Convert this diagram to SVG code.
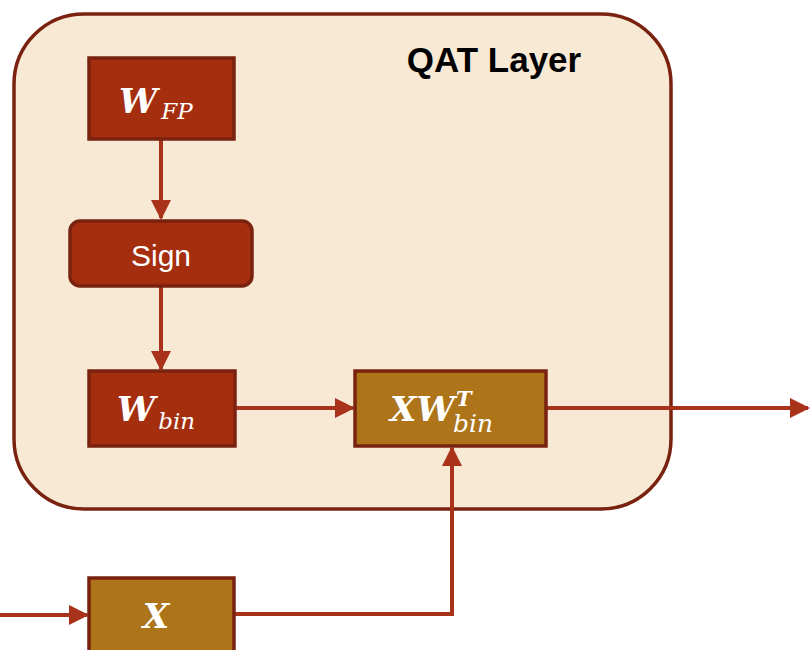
<svg xmlns="http://www.w3.org/2000/svg" width="810" height="650" viewBox="0 0 810 650">
<defs>
<style>
.box{stroke:#7A2210;stroke-width:3.5}
.red{fill:#A52E0F}
.gold{fill:#AD7419}
.conn{fill:none;stroke:#A8321A;stroke-width:4}
.m{font-family:"DejaVu Serif","Liberation Serif",serif;fill:#fff}
.mb{font-weight:bold;font-style:italic;font-size:34px}
.ms{font-style:italic;font-size:23px}
</style>
<marker id="ah" viewBox="0 0 10 10" refX="9" refY="5" markerWidth="5" markerHeight="5" orient="auto" markerUnits="strokeWidth">
<path d="M0,0 L10,5 L0,10 z" fill="#A8321A"/>
</marker>
</defs>
<rect width="810" height="650" fill="#fff"/>
<g id="qat-layer">
<rect x="14" y="14" width="657" height="495" rx="70" fill="#F8E9D5" stroke="#7A2210" stroke-width="3.5"/>
<text x="494" y="72" text-anchor="middle" font-family="Liberation Sans,Arial,sans-serif" font-weight="bold" font-size="35" fill="#000">QAT Layer</text>
</g>
<g id="connectors">
<path class="conn" d="M161,139 V218" marker-end="url(#ah)"/>
<path class="conn" d="M161,286 V369" marker-end="url(#ah)"/>
<path class="conn" d="M235,408 H353" marker-end="url(#ah)"/>
<path class="conn" d="M546,408 H808" marker-end="url(#ah)"/>
<path class="conn" d="M0,615 H87" marker-end="url(#ah)"/>
<path class="conn" d="M234,614 H452 V448" marker-end="url(#ah)"/>
</g>
<g id="w-fp">
<rect class="box red" x="89" y="58" width="145" height="81"/>
<text class="m" x="119" y="113"><tspan class="mb">W</tspan><tspan class="ms" dx="4" dy="6">FP</tspan></text>
</g>
<g id="sign">
<rect class="box red" x="70" y="221" width="182" height="65" rx="10"/>
<text x="161" y="266" text-anchor="middle" font-family="Liberation Sans,Arial,sans-serif" font-size="30" fill="#fff">Sign</text>
</g>
<g id="w-bin">
<rect class="box red" x="89" y="371" width="146" height="75"/>
<text class="m" x="117" y="421"><tspan class="mb">W</tspan><tspan class="ms" dx="3" dy="8">bin</tspan></text>
</g>
<g id="xw-bin">
<rect class="box gold" x="355" y="371" width="191" height="75"/>
<text class="m mb" x="390" y="421">XW</text>
<text class="m" x="456" y="406" font-size="21" font-weight="bold" font-style="italic">T</text>
<text class="m" x="453" y="432" font-size="25" font-style="italic">bin</text>
</g>
<g id="x">
<rect class="box gold" x="89" y="578" width="145" height="80"/>
<text class="m mb" x="156" y="628" text-anchor="middle">X</text>
</g>
</svg>
